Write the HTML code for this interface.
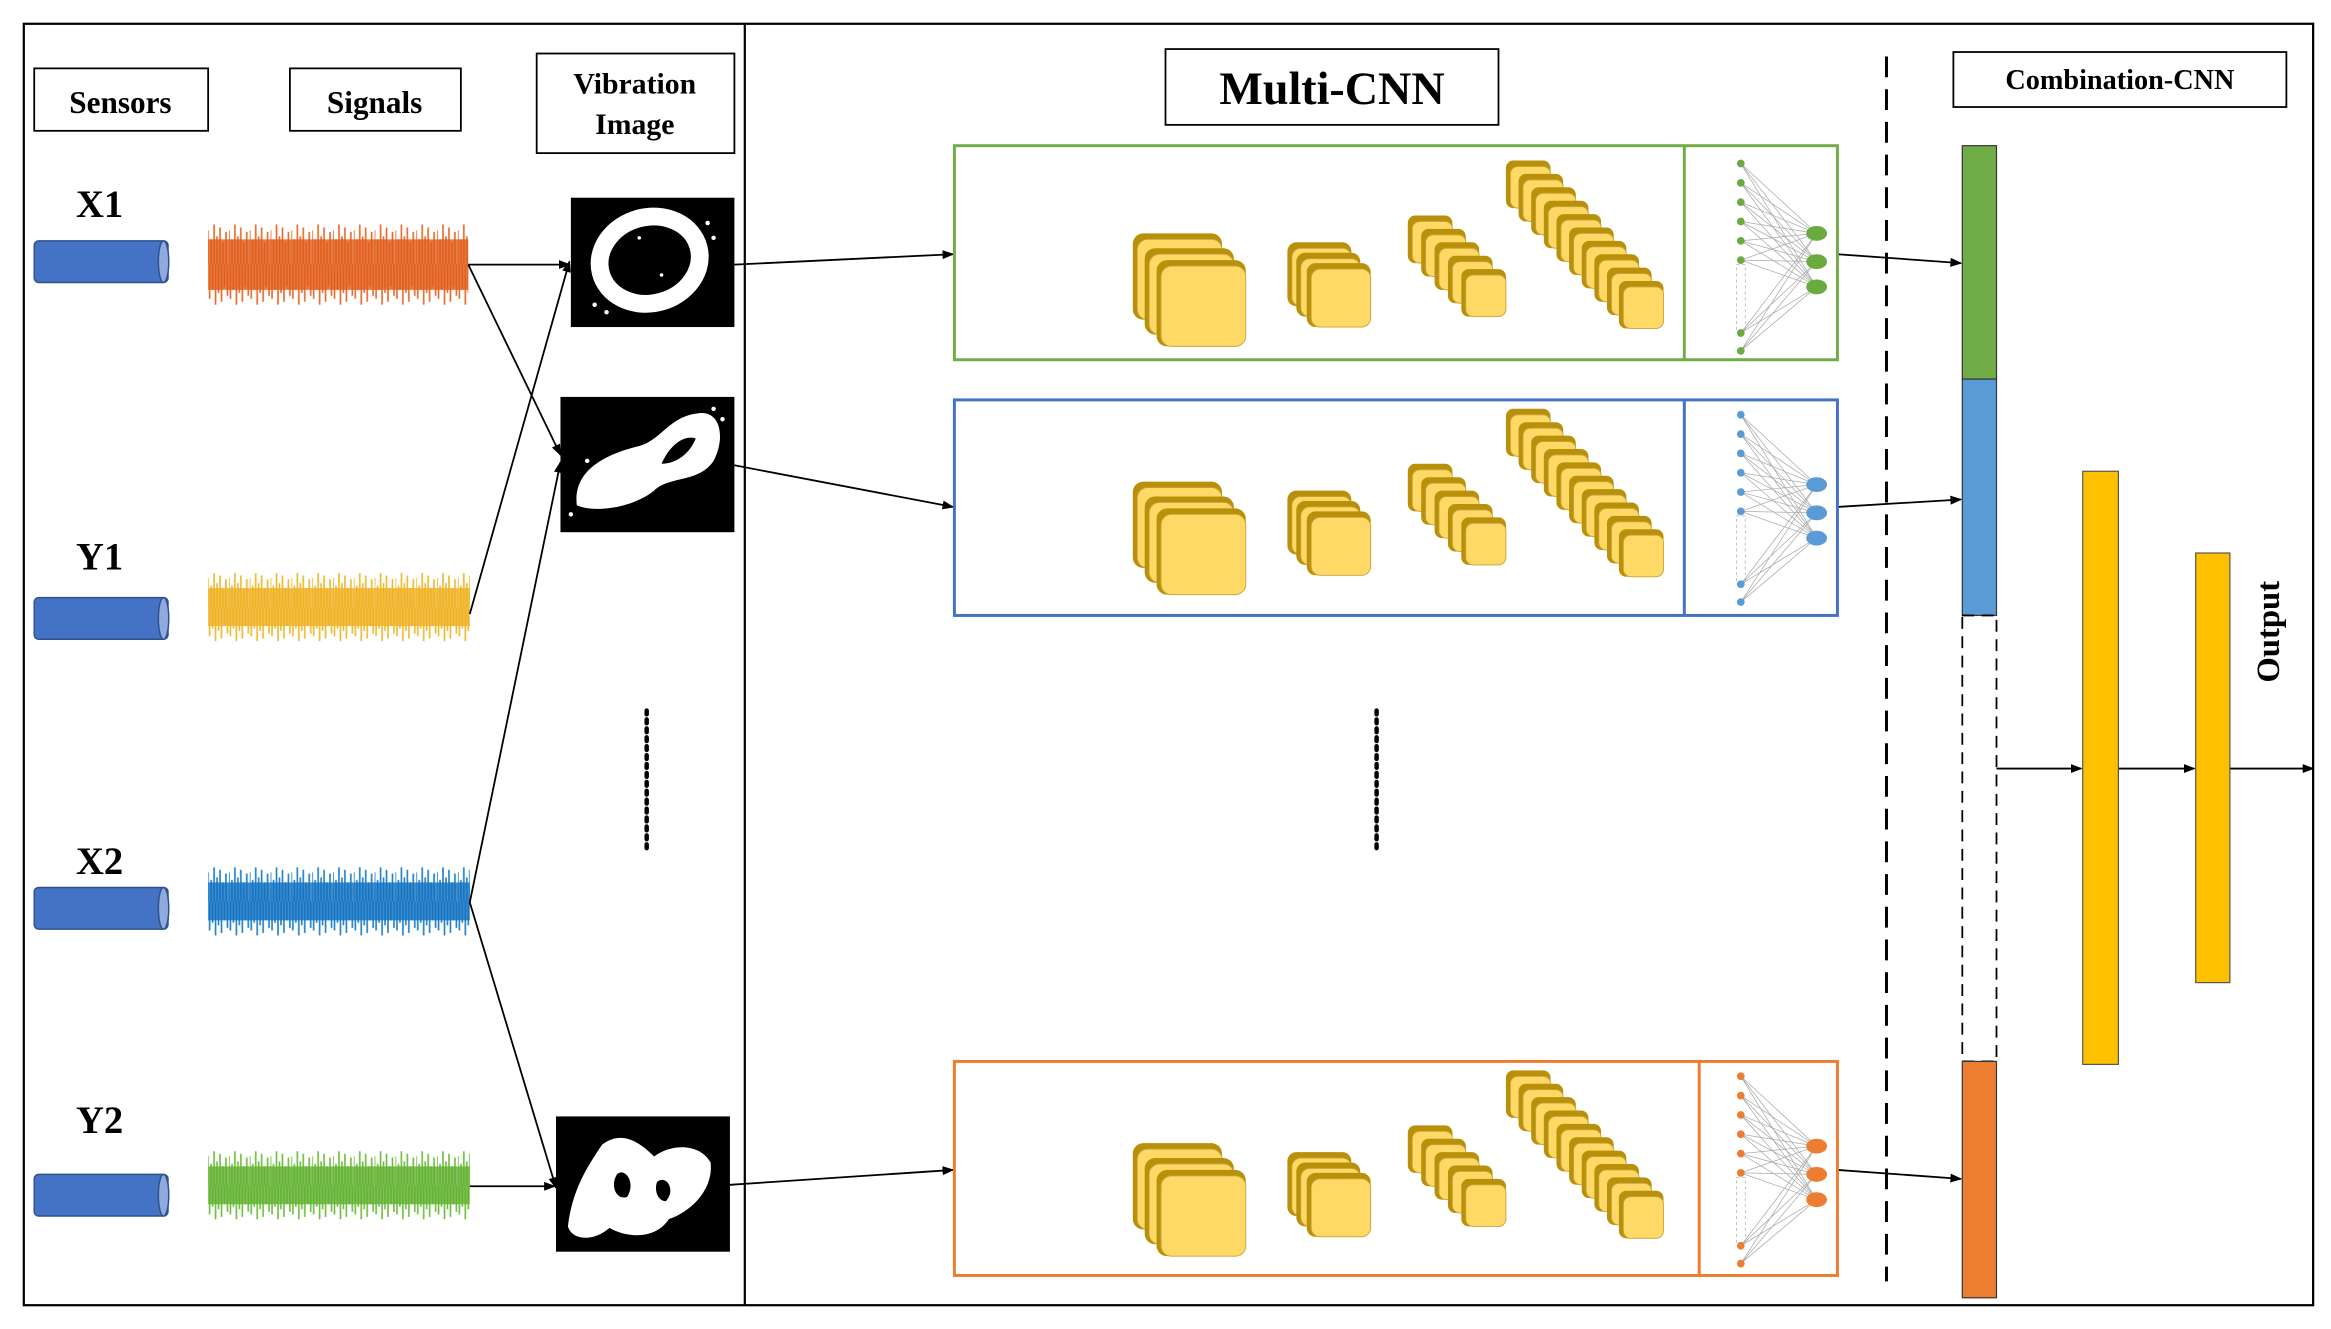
<!DOCTYPE html>
<html><head><meta charset="utf-8"><style>
html,body{margin:0;padding:0;background:#fff;}
svg{display:block;}
text{font-family:"Liberation Serif",serif;font-weight:bold;fill:#000;}
</style></head><body>
<svg width="2331" height="1329" viewBox="0 0 1568 894" xmlns="http://www.w3.org/2000/svg">
<defs>
<marker id="ah" markerWidth="8" markerHeight="8" refX="7" refY="4" orient="auto" markerUnits="userSpaceOnUse">
<path d="M0,1 L8,4 L0,7 Z" fill="#000"/></marker>
<g id="wv">
<path d="M0,31 V8 M2,31 V14 M4,31 V4 M6,31 V12 M8,31 V6 M10,31 V16 M12,31 V9 M1,31 V54 M3,31 V48 M5,31 V58 M7,31 V50 M9,31 V56 M11,31 V46 M13,31 V52" stroke-width="1.1"/>
</g>
<pattern id="pO" patternUnits="userSpaceOnUse" width="14" height="62"><use href="#wv" stroke="#e8692a"/></pattern>
<pattern id="pY" patternUnits="userSpaceOnUse" width="14" height="62"><use href="#wv" stroke="#f0b828"/></pattern>
<pattern id="pB" patternUnits="userSpaceOnUse" width="14" height="62"><use href="#wv" stroke="#1f7fc8"/></pattern>
<pattern id="pG" patternUnits="userSpaceOnUse" width="14" height="62"><use href="#wv" stroke="#6cbf3c"/></pattern>
<g id="pl1"><rect x="0" y="0" width="60" height="58" rx="7" fill="#b8900a"/><rect x="3" y="4" width="57" height="54" rx="7" fill="#ffd966" stroke="#c9a33a" stroke-width="0.6"/></g>
<g id="pl2"><rect x="0" y="0" width="43" height="43" rx="6" fill="#b8900a"/><rect x="3" y="4" width="40" height="39" rx="6" fill="#ffd966" stroke="#c9a33a" stroke-width="0.6"/></g>
<g id="pl3"><rect x="0" y="0" width="30" height="32" rx="5" fill="#b8900a"/><rect x="3" y="4" width="27" height="28" rx="5" fill="#ffd966" stroke="#c9a33a" stroke-width="0.6"/></g>
<g id="cnn">
<use href="#pl1" x="762" y="157"/><use href="#pl1" x="770" y="167"/><use href="#pl1" x="778" y="175"/>
<use href="#pl2" x="866" y="163"/><use href="#pl2" x="872" y="170"/><use href="#pl2" x="879" y="177"/>
<use href="#pl3" x="947" y="145"/><use href="#pl3" x="956" y="154"/><use href="#pl3" x="965" y="163"/><use href="#pl3" x="974" y="172"/><use href="#pl3" x="983" y="181"/>
<use href="#pl3" x="1013" y="108"/><use href="#pl3" x="1021.5" y="117"/><use href="#pl3" x="1030" y="126"/><use href="#pl3" x="1038.5" y="135"/><use href="#pl3" x="1047" y="144"/><use href="#pl3" x="1055.5" y="153"/><use href="#pl3" x="1064" y="162"/><use href="#pl3" x="1072.5" y="171"/><use href="#pl3" x="1081" y="180"/><use href="#pl3" x="1089" y="189"/>
</g>
<g id="net">
<g stroke="#aaa" stroke-width="0.5" fill="none">
<path d="M1171,110 L1222,157 M1171,110 L1222,176 M1171,110 L1222,193 M1171,123 L1222,157 M1171,123 L1222,176 M1171,123 L1222,193 M1171,136 L1222,157 M1171,136 L1222,176 M1171,136 L1222,193 M1171,149 L1222,157 M1171,149 L1222,176 M1171,149 L1222,193 M1171,162 L1222,157 M1171,162 L1222,176 M1171,162 L1222,193 M1171,175 L1222,157 M1171,175 L1222,176 M1171,175 L1222,193 M1171,224 L1222,157 M1171,224 L1222,176 M1171,224 L1222,193 M1171,236 L1222,157 M1171,236 L1222,176 M1171,236 L1222,193"/>
<rect x="1168" y="178" width="6" height="44" stroke-dasharray="2,2"/>
</g>
<g fill="currentColor">
<circle cx="1171" cy="110" r="2.6"/><circle cx="1171" cy="123" r="2.6"/><circle cx="1171" cy="136" r="2.6"/><circle cx="1171" cy="149" r="2.6"/><circle cx="1171" cy="162" r="2.6"/><circle cx="1171" cy="175" r="2.6"/><circle cx="1171" cy="224" r="2.6"/><circle cx="1171" cy="236" r="2.6"/>
<ellipse cx="1222" cy="157" rx="7" ry="5"/><ellipse cx="1222" cy="176" rx="7" ry="5"/><ellipse cx="1222" cy="193" rx="7" ry="5"/>
</g>
</g>
<g id="cyl"><rect x="23" y="0" width="90" height="28" rx="3" fill="#4472c4" stroke="#2f528f" stroke-width="1"/><ellipse cx="110" cy="14" rx="3.5" ry="14" fill="#8faadc" stroke="#2f528f" stroke-width="1"/></g>
</defs>

<rect x="16" y="16" width="1540" height="862" fill="none" stroke="#000" stroke-width="1.5"/>
<line x1="501" y1="16" x2="501" y2="878" stroke="#000" stroke-width="1.5"/>

<rect x="23" y="46" width="117" height="42" fill="#fff" stroke="#000" stroke-width="1.2"/>
<text x="81" y="76" font-size="21" text-anchor="middle">Sensors</text>
<rect x="195" y="46" width="115" height="42" fill="#fff" stroke="#000" stroke-width="1.2"/>
<text x="252" y="76" font-size="21" text-anchor="middle">Signals</text>
<rect x="361" y="36" width="133" height="67" fill="#fff" stroke="#000" stroke-width="1.2"/>
<text x="427" y="63" font-size="20" text-anchor="middle">Vibration</text>
<text x="427" y="90" font-size="20" text-anchor="middle">Image</text>
<rect x="784" y="33" width="224" height="51" fill="#fff" stroke="#000" stroke-width="1.2"/>
<text x="896" y="70" font-size="31" text-anchor="middle">Multi-CNN</text>
<rect x="1314" y="35" width="224" height="37" fill="#fff" stroke="#000" stroke-width="1.2"/>
<text x="1426" y="60" font-size="19" text-anchor="middle">Combination-CNN</text>

<text x="67" y="146" font-size="26" text-anchor="middle">X1</text>
<use href="#cyl" y="162"/>
<text x="67" y="383" font-size="26" text-anchor="middle">Y1</text>
<use href="#cyl" y="402"/>
<text x="67" y="588" font-size="26" text-anchor="middle">X2</text>
<use href="#cyl" y="597"/>
<text x="67" y="762" font-size="26" text-anchor="middle">Y2</text>
<use href="#cyl" y="790"/>

<g transform="translate(140,147)"><rect width="175" height="62" fill="url(#pO)"/><rect y="14" width="175" height="34" fill="#e05a18" opacity="0.8"/></g>
<g transform="translate(140,382) scale(1,0.85)"><rect width="176" height="62" fill="url(#pY)"/><rect y="16" width="176" height="30" fill="#eeb020" opacity="0.8"/></g>
<g transform="translate(140,580) scale(1,0.85)"><rect width="176" height="62" fill="url(#pB)"/><rect y="16" width="176" height="30" fill="#1070c0" opacity="0.8"/></g>
<g transform="translate(140,771) scale(1,0.85)"><rect width="176" height="62" fill="url(#pG)"/><rect y="16" width="176" height="30" fill="#60b030" opacity="0.8"/></g>

<rect x="384" y="133" width="110" height="87" fill="#000"/>
<ellipse cx="437" cy="175" rx="34" ry="29" fill="none" stroke="#fff" stroke-width="12" transform="rotate(-15 437 175)"/>
<g fill="#fff"><circle cx="400" cy="205" r="1.5"/><circle cx="408" cy="210" r="1.5"/><circle cx="480" cy="160" r="1.5"/><circle cx="476" cy="150" r="1.5"/><circle cx="430" cy="160" r="1.2"/><circle cx="445" cy="185" r="1.2"/></g>
<rect x="377" y="267" width="117" height="91" fill="#000"/>
<path d="M388,340 C385,315 410,305 430,300 C445,296 450,280 470,278 C485,276 488,295 480,310 C470,325 450,320 440,330 C425,342 400,345 388,340 Z" fill="#fff"/>
<path d="M445,312 C450,300 460,292 468,295 C464,305 455,312 445,312Z" fill="#000"/>
<g fill="#fff"><circle cx="384" cy="346" r="1.5"/><circle cx="480" cy="275" r="1.5"/><circle cx="486" cy="282" r="1.5"/><circle cx="395" cy="310" r="1.5"/></g>
<rect x="374" y="751" width="117" height="91" fill="#000"/>
<path d="M382,825 C385,800 395,785 405,770 C418,760 430,768 440,778 C450,770 470,768 478,782 C480,800 465,815 450,820 C440,835 420,832 410,826 C400,835 385,835 382,825Z" fill="#fff"/>
<path d="M415,790 C420,785 428,795 422,805 C415,808 410,798 415,790Z M442,795 C448,790 455,800 448,808 C442,808 440,800 442,795Z" fill="#000"/>

<g stroke="#000" stroke-width="1.2" fill="none" marker-end="url(#ah)">
<line x1="315" y1="178" x2="383" y2="178"/>
<line x1="315" y1="178" x2="377" y2="306"/>
<line x1="316" y1="413" x2="383" y2="176"/>
<line x1="316" y1="607" x2="377" y2="311"/>
<line x1="316" y1="607" x2="374" y2="799"/>
<line x1="316" y1="798" x2="373" y2="798"/>
<line x1="494" y1="178" x2="641" y2="171"/>
<line x1="494" y1="313" x2="641" y2="341"/>
<line x1="491" y1="797" x2="641" y2="787"/>
<line x1="1236" y1="171" x2="1319" y2="177"/>
<line x1="1236" y1="341" x2="1319" y2="336"/>
<line x1="1236" y1="787" x2="1319" y2="793"/>
<line x1="1343" y1="517" x2="1400" y2="517"/>
<line x1="1425" y1="517" x2="1476" y2="517"/>
<line x1="1500" y1="517" x2="1556" y2="517"/>
</g>

<line x1="435" y1="478" x2="435" y2="574" stroke="#000" stroke-width="3" stroke-dasharray="2.5,3.5" stroke-linecap="round"/>
<line x1="926" y1="478" x2="926" y2="574" stroke="#000" stroke-width="3" stroke-dasharray="2.5,3.5" stroke-linecap="round"/>

<rect x="642" y="98" width="594" height="144" fill="none" stroke="#70ad47" stroke-width="2"/>
<line x1="1133" y1="98" x2="1133" y2="242" stroke="#70ad47" stroke-width="2"/>
<use href="#cnn"/>
<use href="#net" style="color:#6aab3f"/>

<rect x="642" y="269" width="594" height="145" fill="none" stroke="#4472c4" stroke-width="2"/>
<line x1="1133" y1="269" x2="1133" y2="414" stroke="#4472c4" stroke-width="2"/>
<use href="#cnn" y="167"/>
<use href="#net" y="169" style="color:#5b9bd5"/>

<rect x="642" y="714" width="594" height="144" fill="none" stroke="#ed7d31" stroke-width="2"/>
<line x1="1143" y1="714" x2="1143" y2="858" stroke="#ed7d31" stroke-width="2"/>
<use href="#cnn" y="612"/>
<use href="#net" y="614" style="color:#ed7d31"/>

<line x1="1269" y1="38" x2="1269" y2="862" stroke="#000" stroke-width="2" stroke-dasharray="14,8"/>

<rect x="1320" y="98" width="23" height="157" fill="#70ad47" stroke="#333" stroke-width="0.8"/>
<rect x="1320" y="255" width="23" height="159" fill="#5b9bd5" stroke="#333" stroke-width="0.8"/>
<rect x="1320" y="414" width="23" height="300" fill="none" stroke="#000" stroke-width="1.2" stroke-dasharray="8,5"/>
<rect x="1320" y="714" width="23" height="159" fill="#ed7d31" stroke="#333" stroke-width="0.8"/>
<rect x="1401" y="317" width="24" height="399" fill="#ffc000" stroke="#555" stroke-width="0.8"/>
<rect x="1477" y="372" width="23" height="289" fill="#ffc000" stroke="#555" stroke-width="0.8"/>
<text transform="translate(1533,425) rotate(-90)" font-size="22" text-anchor="middle">Output</text>
</svg>
</body></html>
